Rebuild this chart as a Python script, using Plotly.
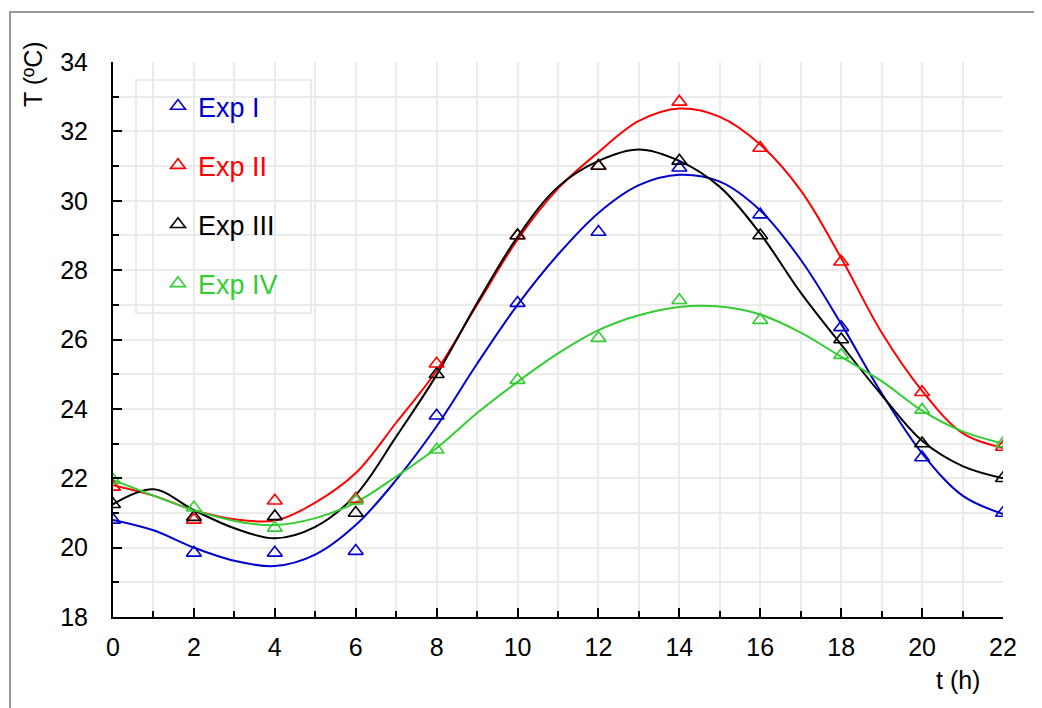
import plotly.graph_objects as go

# Measured points
t_pts = [0, 2, 4, 6, 8, 10, 12, 14, 16, 18, 20, 22]
exp1 = [20.8, 19.85, 19.85, 19.9, 23.8, 27.05, 29.1, 30.95, 29.6, 26.35, 22.6, 21.0]
exp2 = [21.75, 20.8, 21.35, 21.4, 25.3, 29.0, 31.0, 32.85, 31.52, 28.24, 24.48, 22.9]
exp3 = [21.25, 20.88, 20.9, 21.0, 25.0, 29.0, 31.0, 31.15, 29.0, 26.0, 23.0, 22.0]
exp4 = [21.95, 21.15, 20.57, 21.35, 22.82, 24.83, 26.04, 27.13, 26.56, 25.55, 23.97, 23.0]

# Fitted curves (at each hour)
t_fit = list(range(0, 23))
fit1 = [20.8, 20.5, 20.0, 19.62, 19.47, 19.8, 20.65, 21.95, 23.5, 25.3, 27.0, 28.45, 29.65,
        30.45, 30.75, 30.55, 29.72, 28.3, 26.45, 24.45, 22.72, 21.5, 20.97]
fit2 = [21.8, 21.5, 21.08, 20.82, 20.78, 21.3, 22.15, 23.6, 25.1, 27.0, 28.88, 30.35, 31.4,
        32.3, 32.66, 32.42, 31.62, 30.3, 28.35, 26.2, 24.52, 23.3, 22.87]
fit3 = [21.25, 21.68, 21.08, 20.56, 20.27, 20.6, 21.52, 23.2, 24.98, 27.05, 28.96, 30.4, 31.15,
        31.48, 31.15, 30.4, 29.05, 27.35, 25.85, 24.4, 23.08, 22.35, 22.0]
fit4 = [21.95, 21.5, 21.08, 20.77, 20.65, 20.85, 21.3, 22.05, 22.87, 23.88, 24.78, 25.6, 26.27,
        26.7, 26.94, 26.95, 26.72, 26.2, 25.5, 24.8, 23.95, 23.35, 23.0]

names = ["Exp I", "Exp II", "Exp III", "Exp IV"]
colors = ["#0000CC", "#FF0000", "#000000", "#33CC33"]
pts = [exp1, exp2, exp3, exp4]
fits = [fit1, fit2, fit3, fit4]

x_ticks = list(range(0, 23, 2))
y_ticks = list(range(18, 35, 2))

FONT = "Liberation Sans, Arial, Helvetica"

fig = go.Figure()
for nm, c, f in zip(names, colors, fits):
    fig.add_trace(go.Scatter(x=t_fit, y=f, mode="lines",
                             line=dict(color=c, width=2, shape="spline", smoothing=1.0),
                             showlegend=False, hoverinfo="skip"))
for i, (nm, c, p) in enumerate(zip(names, colors, pts)):
    fig.add_trace(go.Scatter(x=t_pts, y=p, mode="markers",
                             name=f"<span style='color:{c}'>{nm}</span>",
                             legendgroup=f"g{i}",
                             marker=dict(symbol="triangle-up-open", size=13, color=c,
                                         line=dict(width=1.6, color=c))))

axis_common = dict(
    showline=True, linecolor="black", linewidth=2, mirror=False,
    showgrid=True, gridcolor="#EBEBEB", gridwidth=1.5,
    ticks="inside", ticklen=9, tickwidth=2, tickcolor="black",
    tickfont=dict(family=FONT, size=25, color="black"),
    zeroline=False,
)
minor_common = dict(dtick=1, showgrid=True, gridcolor="#EBEBEB", gridwidth=1.5,
                    ticks="inside", ticklen=6, tickwidth=2, tickcolor="black")
fig.update_xaxes(range=[0, 22], tickvals=x_ticks, ticktext=[str(v) for v in x_ticks],
                 minor=minor_common, ticklabelstandoff=7, **axis_common)
fig.update_yaxes(range=[18, 34], tickvals=y_ticks, ticktext=[str(v) for v in y_ticks],
                 minor=minor_common, ticklabelstandoff=18, **axis_common)

# page body has an 8px margin: figure spans screen pixels 8..1042
OFF = 8
W, H = 1042 - OFF, 708 - OFF
L, T = 113 - OFF, 62 - OFF
R = W - (1003 - OFF)
B = H - (617 - OFF)
pw, ph = W - L - R, H - T - B


def px(xs):  # screen pixel -> paper x
    return (xs - OFF - L) / pw


def py(ys):  # screen pixel -> paper y
    return (H - B - (ys - OFF)) / ph


fig.update_layout(
    width=W, height=H, margin=dict(l=L, r=R, t=T, b=B, pad=0),
    paper_bgcolor="white", plot_bgcolor="white",
    font=dict(family=FONT, size=24, color="black"),
    legend=dict(x=px(158), y=py(82), xanchor="left", yanchor="top",
                bgcolor="rgba(0,0,0,0)", borderwidth=0,
                tracegroupgap=21, font=dict(family=FONT, size=27), itemwidth=30),
    shapes=[
        dict(type="rect", xref="paper", yref="paper", x0=px(10), x1=px(1050), y0=py(716), y1=py(12),
             line=dict(color="#999999", width=2), fillcolor="rgba(0,0,0,0)", layer="below"),
        dict(type="rect", xref="paper", yref="paper", x0=px(136), x1=px(311), y0=py(313), y1=py(80),
             line=dict(color="#EBEBEB", width=2), fillcolor="white", layer="between"),
    ],
    annotations=[
        dict(text="T (ºC)", xref="paper", yref="paper", x=px(33), y=py(74), textangle=-90,
             showarrow=False, xanchor="center", yanchor="middle", font=dict(family=FONT, size=25)),
        dict(text="t (h)", xref="paper", yref="paper", x=px(958), y=py(680),
             showarrow=False, xanchor="center", yanchor="middle", font=dict(family=FONT, size=25)),
    ],
)

fig.write_html("out.html")
